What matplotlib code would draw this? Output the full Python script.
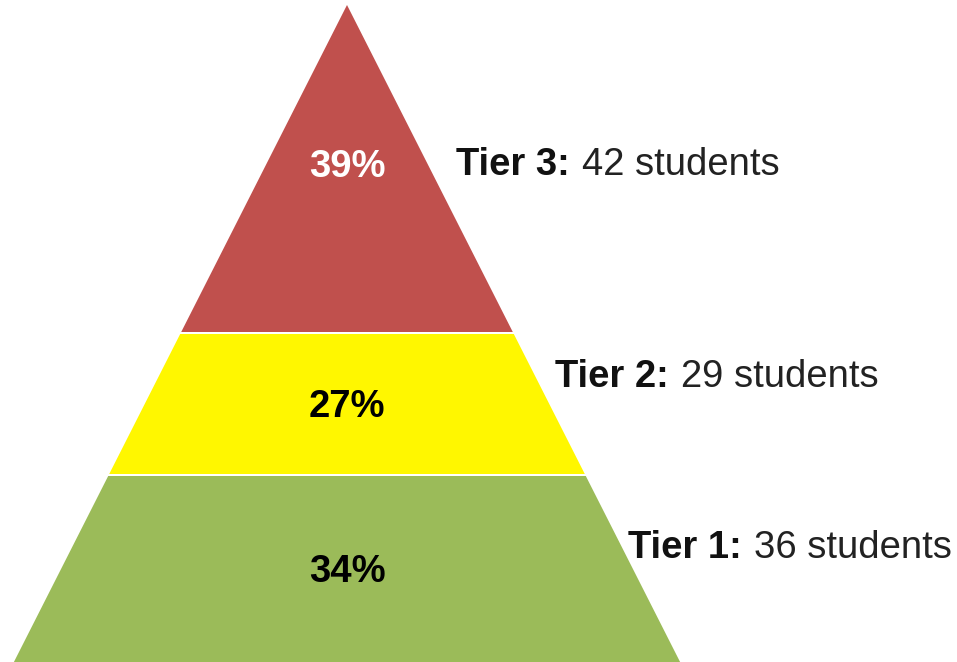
import matplotlib.pyplot as plt
from matplotlib.patches import Polygon

plt.rcParams['font.family'] = ['Liberation Sans', 'DejaVu Sans']

tiers = ['Tier 3', 'Tier 2', 'Tier 1']
students = [42, 29, 36]
percents = [39, 27, 34]
colors = ['#C0504D', '#FFF700', '#9BBB59']
pct_colors = ['white', 'black', 'black']

# layout in pixel units (y grows downwards), text y = baseline
apex_x, apex_y = 347, 5
slope = 0.507
bands = [(5, 332), (334, 474), (476, 700)]
pct_y = [177, 417, 582]
label_pos = [(456, 175), (555, 387), (628, 558)]
fs = 27.5

fig = plt.figure(figsize=(9.57, 6.62), dpi=100)
ax = fig.add_axes([0, 0, 1, 1])
ax.set_xlim(0, 957)
ax.set_ylim(662, 0)
ax.axis('off')

for (y0, y1), c in zip(bands, colors):
    h0 = slope * (y0 - apex_y)
    h1 = slope * (y1 - apex_y)
    pts = [(apex_x - h0, y0), (apex_x + h0, y0), (apex_x + h1, y1), (apex_x - h1, y1)]
    ax.add_patch(Polygon(pts, closed=True, facecolor=c, edgecolor='none'))

for p, y, c in zip(percents, pct_y, pct_colors):
    ax.text(apex_x, y, f'{p}%', color=c, fontsize=fs, fontweight='bold',
            ha='center', va='baseline')

fig.canvas.draw()
renderer = fig.canvas.get_renderer()
for t, n, (x, y) in zip(tiers, students, label_pos):
    bt = ax.text(x, y, f'{t}:', fontsize=fs, fontweight='bold', color='#111111',
                 ha='left', va='baseline')
    bb = bt.get_window_extent(renderer=renderer)
    x_end = ax.transData.inverted().transform((bb.x1, 0))[0]
    ax.text(x_end + 12, y, f'{n} students', fontsize=fs, color='#222222',
            ha='left', va='baseline')

fig.savefig('out.png', dpi=100, facecolor='white')
